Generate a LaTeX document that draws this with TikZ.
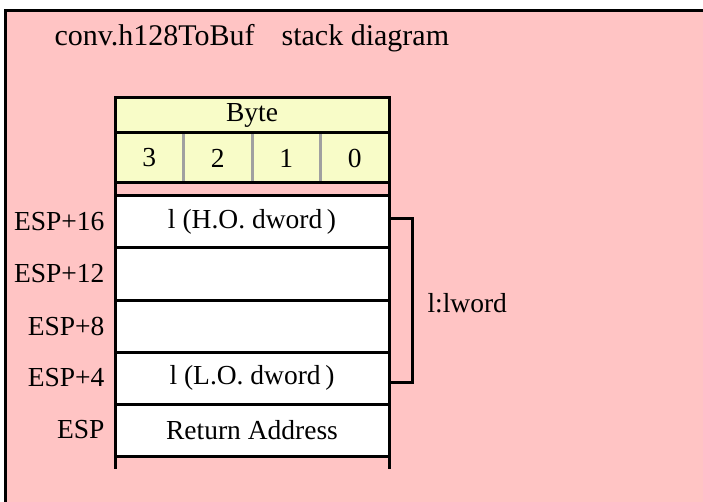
\documentclass[tikz,border=0pt]{standalone}
\usepackage{fontspec}
\setmainfont{Liberation Serif}
\usetikzlibrary{positioning}
\definecolor{stackpink}{RGB}{255,196,196}
\definecolor{byteyellow}{RGB}{248,252,200}
\definecolor{sepgray}{RGB}{160,160,160}

\tikzset{
  thickline/.style={line width=3pt},
  slot/.style={draw,thickline,fill=white,minimum width=274pt,minimum height=52pt,
    inner sep=0pt,outer sep=0pt,font=\fontsize{27.5}{29}\selectfont},
  hdr/.style={draw,thickline,fill=byteyellow,minimum width=274pt,minimum height=35pt,
    inner sep=0pt,outer sep=0pt,font=\fontsize{27.5}{29}\selectfont},
  bytecell/.style={draw=sepgray,thickline,fill=byteyellow,minimum width=68.5pt,minimum height=50pt,
    inner sep=0pt,outer sep=0pt,font=\fontsize{27.5}{29}\selectfont},
  offs/.style={font=\fontsize{27.5}{29}\selectfont}
}

\begin{document}
\begin{tikzpicture}[x=1pt,y=-1pt]
\useasboundingbox (0,0) rectangle (703,502);
\fill[stackpink] (5,11) rectangle (712,512);
\draw[thickline] (712,11) -- (5,11) -- (5,512);
\node[anchor=base west,font=\fontsize{30}{31}\selectfont] (title) at (51,46) {conv.h128ToBuf\hspace{0.9em}stack diagram};

% byte header
\node[hdr] (byte) at (252,115.5) {Byte};
\node[bytecell,below=0pt of byte.south west,anchor=north west] (b3) {3};
\node[bytecell,right=0pt of b3] (b2) {2};
\node[bytecell,right=0pt of b2] (b1) {1};
\node[bytecell,right=0pt of b1] (b0) {0};
\draw[thickline] (b3.north west) rectangle (b0.south east);

% stack slots
\node[slot] (row16) at (252,222) {l (H.O. dword\,)};
\node[slot,below=0pt of row16] (row12) {};
\node[slot,below=0pt of row12] (row8) {};
\node[slot,below=0pt of row8] (row4) {l (L.O. dword\,)};
\node[slot,below=0pt of row4] (row0) {Return Address};
\draw[thickline] (b3.south west) -- (row16.north west);
\draw[thickline] (b0.south east) -- (row16.north east);
\draw[thickline] (row0.south west) -- ++(0,13);
\draw[thickline] (row0.south east) -- ++(0,13);

% offsets
\node[offs,left=7pt of row16] (esp16) {ESP+16};
\node[offs,left=7pt of row12] (esp12) {ESP+12};
\node[offs,left=7pt of row8] (esp8) {ESP+8};
\node[offs,left=7pt of row4] (esp4) {ESP+4};
\node[offs,left=7pt of row0] (esp0) {ESP};

% lword bracket
\draw[thickline] ([yshift=3pt]row16.east) -- ++(23,0) |- ([yshift=-4pt]row4.east);
\node[offs,anchor=west] (lword) at (424,303) {l:lword};
\end{tikzpicture}
\end{document}
